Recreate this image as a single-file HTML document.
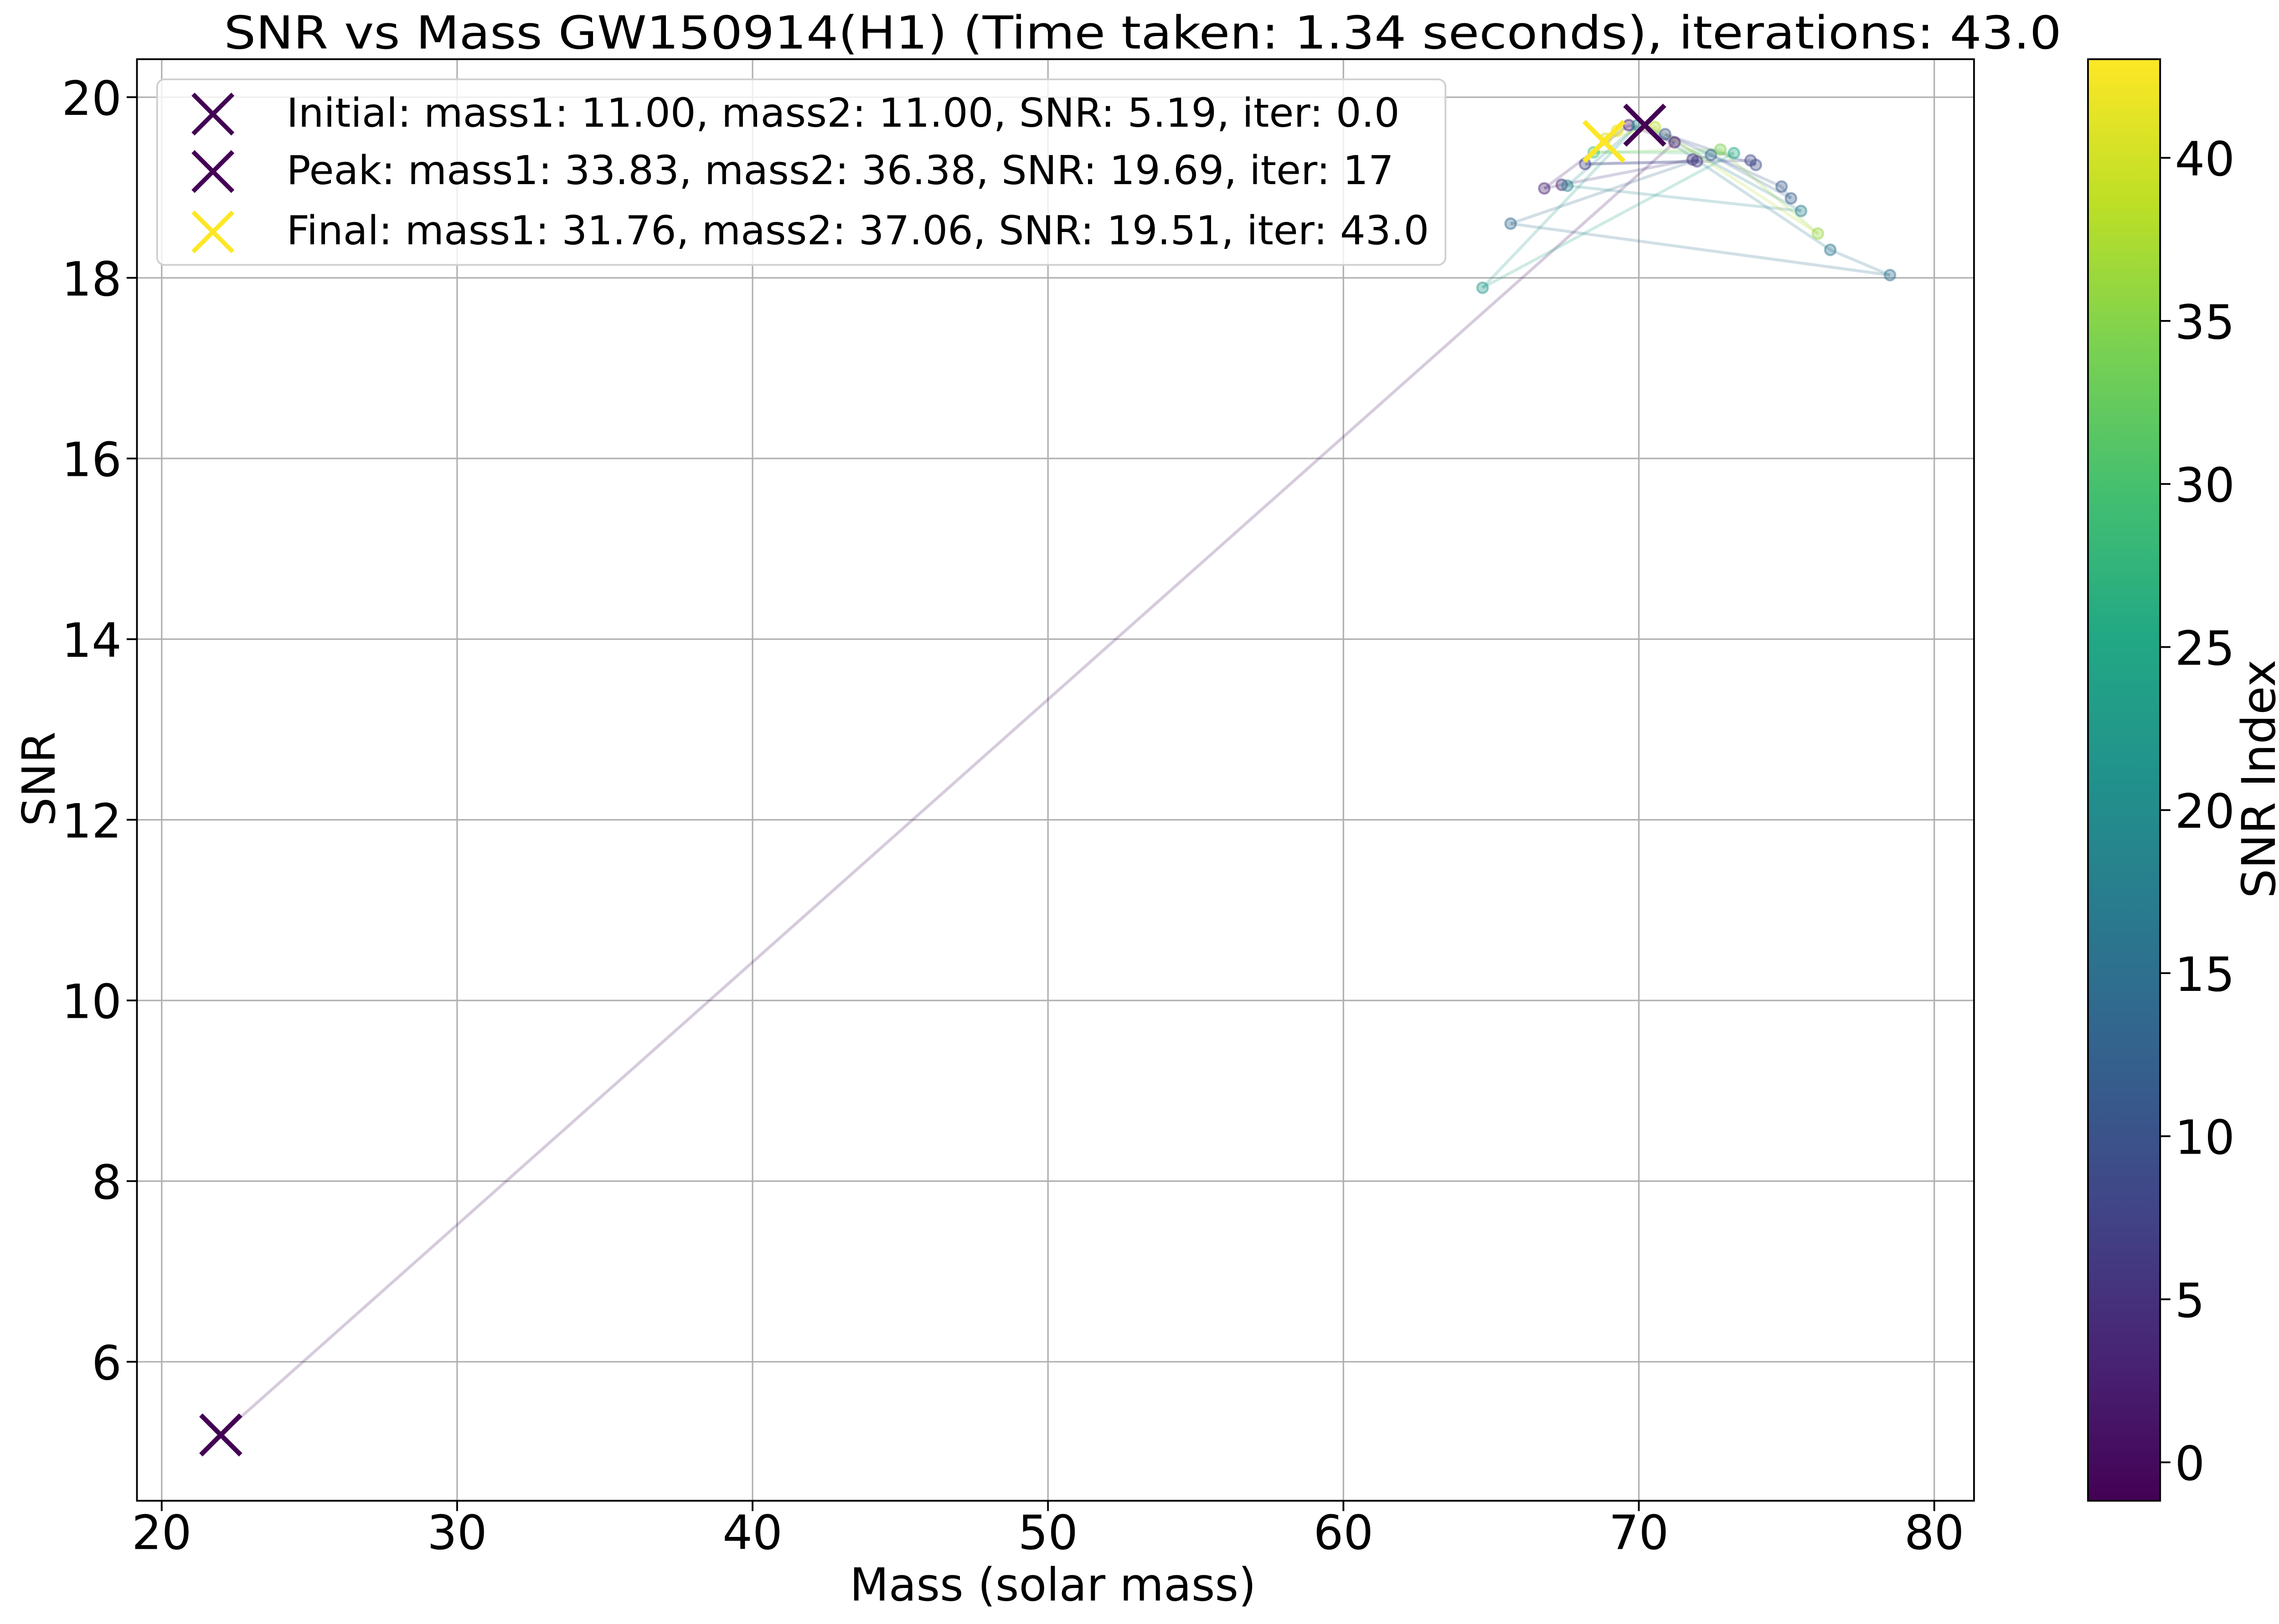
<!DOCTYPE html>
<html><head><meta charset="utf-8"><style>
html,body{margin:0;padding:0;background:#fff;}
svg{display:block;font-family:"DejaVu Sans","Liberation Sans",sans-serif;}
</style></head><body>
<svg id="chart" width="5040" height="3563" viewBox="0 0 1560 1103" xmlns="http://www.w3.org/2000/svg">
<rect width="1560" height="1103" fill="#fff"/>
<g id="grid"></g>
<g id="lines"></g>
<g id="pts"></g>
<g id="marks"></g>
<rect x="92.9" y="40.2" width="1247.7" height="979.1" fill="none" stroke="#000" stroke-width="1.2"/>
<g id="ticks"></g>
<text x="152" y="33" font-size="31" textLength="1248" lengthAdjust="spacingAndGlyphs">SNR vs Mass GW150914(H1) (Time taken: 1.34 seconds), iterations: 43.0</text>
<text x="577" y="1087" font-size="31" textLength="276" lengthAdjust="spacingAndGlyphs">Mass (solar mass)</text>
<text x="0" y="0" font-size="31" text-anchor="middle" transform="translate(37,529) rotate(-90)">SNR</text>
<g>
<rect x="106.6" y="53.9" width="875" height="126" rx="5" fill="#fff" fill-opacity="0.8" stroke="#d0d0d0" stroke-width="1.2"/>
<g><path d="M131,64 L158,91 M158,64 L131,91" stroke="#440154" stroke-width="3"/><text x="194.5" y="86" font-size="27" textLength="756" lengthAdjust="spacingAndGlyphs">Initial: mass1: 11.00, mass2: 11.00, SNR: 5.19, iter: 0.0</text></g>
<g><path d="M131,103 L158,130 M158,103 L131,130" stroke="#440154" stroke-width="3"/><text x="194.5" y="125" font-size="27" textLength="752" lengthAdjust="spacingAndGlyphs">Peak: mass1: 33.83, mass2: 36.38, SNR: 19.69, iter: 17</text></g>
<g><path d="M131,144 L158,171 M158,144 L131,171" stroke="#fde725" stroke-width="3"/><text x="194.5" y="166" font-size="27" textLength="776" lengthAdjust="spacingAndGlyphs">Final: mass1: 31.76, mass2: 37.06, SNR: 19.51, iter: 43.0</text></g>
</g>
<defs><linearGradient id="vir" x1="0" y1="1" x2="0" y2="0"></linearGradient></defs>
<rect x="1418" y="40.2" width="49" height="979.1" fill="url(#vir)" stroke="#000" stroke-width="1.2"/>
<g id="cticks"></g>
<text x="0" y="0" font-size="31.5" text-anchor="middle" transform="translate(1545,529) rotate(-90)">SNR Index</text>
</svg>
<script>
const iterIdx = [0,1,2,3,4,5,6,7,8,9,10,11,12,13,14,15,16,17,18,19,20,22,25,30,34,36,38,40,41,43];
const masses = [22.0,71.21,69.66,66.80,67.39,71.82,71.97,68.18,73.78,73.96,70.89,74.83,75.15,72.44,65.66,78.50,76.48,70.20,75.49,67.58,69.95,64.71,73.22,68.47,72.76,76.06,70.54,68.87,69.26,68.82];
const snrs = [5.19,19.50,19.69,18.99,19.03,19.31,19.29,19.26,19.30,19.25,19.59,19.01,18.88,19.36,18.60,18.03,18.31,19.69,18.74,19.02,19.69,17.89,19.38,19.39,19.42,18.49,19.67,19.54,19.63,19.51];
const xTicks = [20,30,40,50,60,70,80];
const yTicks = [6,8,10,12,14,16,18,20];
const cTicks = [0,5,10,15,20,25,30,35,40];
const NS="http://www.w3.org/2000/svg";
const L=92.9,R=1340.6,T=40.2,B=1019.3;
const X = m => 109.7 + (m-20)*20.065;
const Y = s => 924.9 - (s-6)*61.35;
const C = v => 993.2 - v*22.15;
const vstops=[[0,68,1,84],[0.1,72,36,117],[0.2,65,68,135],[0.3,53,95,141],[0.4,42,120,142],[0.5,33,145,140],[0.6,34,168,132],[0.7,68,191,112],[0.8,122,209,81],[0.9,189,223,38],[1,253,231,37]];
function vir(t){t=Math.max(0,Math.min(1,t));for(let i=1;i<vstops.length;i++){if(t<=vstops[i][0]){const a=vstops[i-1],b=vstops[i],f=(t-a[0])/(b[0]-a[0]);return `rgb(${Math.round(a[1]+f*(b[1]-a[1]))},${Math.round(a[2]+f*(b[2]-a[2]))},${Math.round(a[3]+f*(b[3]-a[3]))})`;}}return 'rgb(253,231,37)';}
const cmin=-1.16,cmax=43.04;
const col = v => vir((v-cmin)/(cmax-cmin));
function el(tag,attrs,parent,txt){const e=document.createElementNS(NS,tag);for(const k in attrs)e.setAttribute(k,attrs[k]);if(txt!==undefined)e.textContent=txt;parent.appendChild(e);return e;}
const grid=document.getElementById('grid'),ticks=document.getElementById('ticks');
xTicks.forEach(v=>{
  const g=el('line',{x1:X(v),x2:X(v),y1:T,y2:B,stroke:'#b0b0b0','stroke-width':1},grid);
  
  
  el('line',{x1:X(v),x2:X(v),y1:B,y2:B+7,stroke:'#000','stroke-width':1.2},ticks);
  const t=el('text',{x:X(v),y:1052,'font-size':32,'text-anchor':'middle'},ticks,String(v));
  
  
});
yTicks.forEach(v=>{
  const g=el('line',{x1:L,x2:R,y1:Y(v),y2:Y(v),stroke:'#b0b0b0','stroke-width':1},grid);
  
  
  el('line',{x1:L-7,x2:L,y1:Y(v),y2:Y(v),stroke:'#000','stroke-width':1.2},ticks);
  const t=el('text',{x:82.5,y:Y(v)+12,'font-size':32,'text-anchor':'end'},ticks,String(v));
  
  
});
const grad=document.getElementById('vir');
for(let i=0;i<=20;i++){const t=i/20;el('stop',{offset:t,'stop-color':vir(t)},grad);}
const ct=document.getElementById('cticks');
cTicks.forEach(v=>{
  el('line',{x1:1467,x2:1474,y1:C(v),y2:C(v),stroke:'#000','stroke-width':1.2},ct);
  const t=el('text',{x:1477,y:C(v)+12,'font-size':32},ct,String(v));
  
  
});
const lines=document.getElementById('lines'),pts=document.getElementById('pts');
for(let i=1;i<masses.length;i++){
  const l=el('line',{x1:X(masses[i-1]),y1:Y(snrs[i-1]),x2:X(masses[i]),y2:Y(snrs[i]),stroke:col(iterIdx[i]),'stroke-width':2,'stroke-opacity':0.22},lines);
  
  
}
for(let i=1;i<masses.length-1;i++){
  if(iterIdx[i]===17) continue;
  const c=el('circle',{cx:X(masses[i]),cy:Y(snrs[i]),r:3.6,fill:col(iterIdx[i]),'fill-opacity':0.35,stroke:col(iterIdx[i]),'stroke-opacity':0.45,'stroke-width':1.4},pts);
  
  
}
const marks=document.getElementById('marks');
function xmark(m,s,color,name){
  const x=X(m),y=Y(s),d=13.5;
  const p=el('path',{d:`M${x-d},${y-d} L${x+d},${y+d} M${x+d},${y-d} L${x-d},${y+d}`,stroke:color,'stroke-width':3.2},marks);
  
  
}
const last=masses.length-1;
xmark(masses[0],snrs[0],'#440154','initial-marker');
xmark(masses[last],snrs[last],'#fde725','final-marker');
const pk=iterIdx.indexOf(17);
xmark(masses[pk],snrs[pk],'#440154','peak-marker');
</script>
</body></html>
